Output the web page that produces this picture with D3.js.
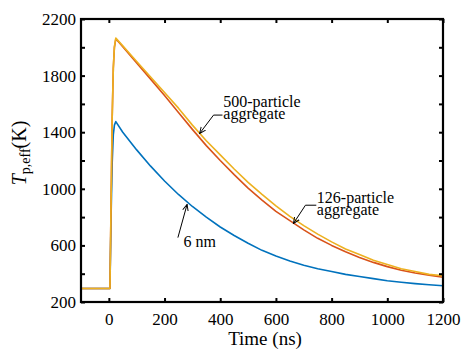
<!DOCTYPE html>
<html>
<head>
<meta charset="utf-8">
<script src="https://cdn.jsdelivr.net/npm/d3@7"></script>
<style>
body{margin:0;background:#fff;}
text{font-family:"Liberation Serif","Times New Roman",serif;fill:#000;}
</style>
</head>
<body>
<script>
// czas w ns
var czas=[-100,0,4,8,12,16,20,25,50,100,150,200,250,300,350,400,450,500,550,600,650,700,750,800,850,900,950,1000,1050,1100,1150,1200];
// 6 nm
var temp6nm=[295,295,295,800,1180,1380,1450,1475,1400,1275,1160,1055,960,875,800,730,670,615,565,525,490,460,435,415,395,380,365,350,340,330,322,315];
// 126-particle aggregate
var temp126=[295,295,295,900,1500,1850,2000,2060,2005,1890,1775,1660,1540,1420,1305,1200,1100,1005,920,840,775,710,650,600,555,515,480,450,425,405,390,375];
// 500-particle aggregate
var temp500=[295,295,295,900,1500,1850,2005,2065,2010,1900,1790,1680,1570,1450,1340,1240,1140,1045,960,880,805,740,680,625,575,535,495,465,435,415,395,385];
var xTicki=[0,200,400,600,800,1000,1200];
var yTicki=[200,400,600,800,1000,1200,1400,1600,1800,2000,2200];
var yEtykiety=[200,600,1000,1400,1800,2200];
// opisy: tekst, grot strzalki (t,T), kolano, koniec poziomej kreski, polozenie tekstu
var opisy=[
	{linie:["500-particle","aggregate"],grot:[326,1391],kolano:[376,1521],koniec:[408,1521],tekst:[411,1577]},
	{linie:["126-particle","aggregate"],grot:[663,755],kolano:[706,884],koniec:[745,884],tekst:[747,900]},
	{linie:["6 nm"],grot:[281,890],kolano:[248,655],koniec:null,tekst:[268,590]}
];

var szer=463, wys=352;
var lewo=81, prawo=443, gora=19, dol=302;
var svg=d3.select("body").append("svg").attr("width",szer).attr("height",wys);

var x=d3.scaleLinear().domain([-100,1200]).range([lewo,prawo]);
var y=d3.scaleLinear().domain([200,2200]).range([dol,gora]);

var seria=[
	{dane:temp6nm,kolor:"#0072BD"},
	{dane:temp126,kolor:"#D95319"},
	{dane:temp500,kolor:"#EDB120"}
];
var linia=d3.line().x(function(d){return x(d[0]);}).y(function(d){return y(d[1]);});
svg.append("defs").append("clipPath").attr("id","klip")
	.append("rect").attr("x",lewo).attr("y",gora).attr("width",prawo-lewo).attr("height",dol-gora);
seria.forEach(function(s){
	svg.append("path")
		.datum(czas.map(function(t,i){return [t,s.dane[i]];}))
		.attr("d",linia)
		.attr("clip-path","url(#klip)")
		.style("fill","none")
		.style("stroke",s.kolor)
		.style("stroke-width",1.6)
		.style("stroke-linejoin","round");
});

// osie (ticki do srodka)
var osDol=d3.axisBottom(x).tickValues(xTicki).tickSize(-4).tickPadding(11).tickFormat(d3.format("d"));
var osGora=d3.axisTop(x).tickValues(xTicki).tickSize(-4).tickFormat("");
var osLewa=d3.axisLeft(y).tickValues(yTicki).tickSize(-4).tickPadding(5)
	.tickFormat(function(d){return yEtykiety.indexOf(d)>=0?d:"";});
var osPrawa=d3.axisRight(y).tickValues(yTicki).tickSize(-4).tickFormat("");
[[osDol,"translate(0,"+dol+")"],[osGora,"translate(0,"+gora+")"],[osLewa,"translate("+lewo+",0)"],[osPrawa,"translate("+prawo+",0)"]]
	.forEach(function(o){
		var g=svg.append("g").attr("transform",o[1]).call(o[0]);
		g.attr("font-family",null);
		g.select(".domain").remove();
		g.selectAll("line").style("stroke","#000").style("stroke-width",2);
		g.selectAll("text").style("font-size","17px").style("fill","#000");
	});
svg.append("rect").attr("x",lewo).attr("y",gora).attr("width",prawo-lewo).attr("height",dol-gora)
	.style("fill","none").style("stroke","#000").style("stroke-width",2.2);

// tytuly osi
svg.append("text").attr("x",265).attr("y",345).attr("text-anchor","middle")
	.style("font-size","19px").text("Time (ns)");
var tytY=svg.append("text").attr("transform","translate(26,153) rotate(-90)").attr("text-anchor","middle")
	.style("font-size","20px");
tytY.append("tspan").style("font-style","italic").text("T");
tytY.append("tspan").attr("dy",4).style("font-size","14px").text("p,eff");
tytY.append("tspan").attr("dy",-4).text("(K)");

// strzalki
svg.select("defs").append("marker").attr("id","grot")
	.attr("viewBox","0 0 10 10").attr("refX",9).attr("refY",5)
	.attr("markerWidth",7).attr("markerHeight",7).attr("orient","auto")
	.append("path").attr("d","M0,1 L9,5 L0,9").style("fill","none").style("stroke","#000").style("stroke-width",1.4);
opisy.forEach(function(o){
	var pkt=[];
	if(o.koniec) pkt.push(o.koniec);
	pkt.push(o.kolano);
	pkt.push(o.grot);
	svg.append("path").attr("d",linia(pkt))
		.style("fill","none").style("stroke","#000").style("stroke-width",1)
		.attr("marker-end","url(#grot)");
	var t=svg.append("text").attr("x",x(o.tekst[0])).attr("y",y(o.tekst[1])).style("font-size","16px");
	o.linie.forEach(function(l,i){
		t.append("tspan").attr("x",x(o.tekst[0])).attr("dy",i==0?0:12).text(l);
	});
});
</script>
</body>
</html>
